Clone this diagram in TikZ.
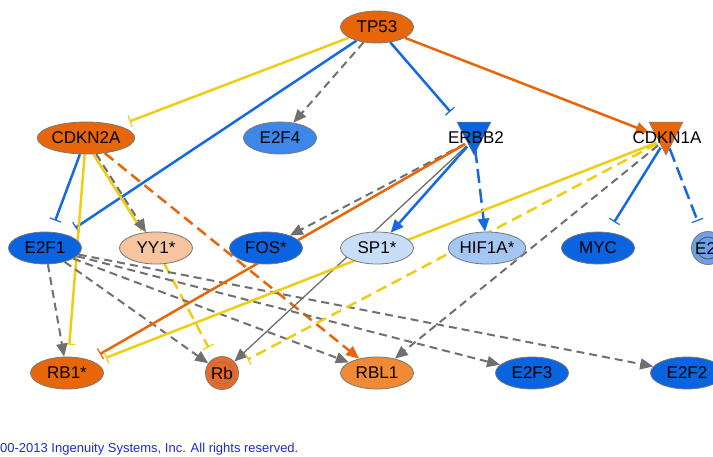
\documentclass[tikz,border=0pt]{standalone}
\usepackage{fontspec}
\setmainfont{Liberation Sans}
\usetikzlibrary{arrows.meta,shapes.geometric,backgrounds}
\definecolor{orangeN}{RGB}{232,102,10}
\definecolor{orangeL}{RGB}{240,138,55}
\definecolor{peach}{RGB}{246,196,158}
\definecolor{blueN}{RGB}{10,100,224}
\definecolor{blueM}{RGB}{60,135,232}
\definecolor{sponeC}{RGB}{200,221,246}
\definecolor{hifC}{RGB}{164,198,242}
\definecolor{etwofC}{RGB}{110,160,230}
\definecolor{bordergray}{RGB}{120,120,120}
\definecolor{yelE}{RGB}{238,205,20}
\definecolor{bluE}{RGB}{20,105,228}
\definecolor{orgE}{RGB}{232,102,10}
\definecolor{grE}{RGB}{112,112,112}
\definecolor{footblue}{RGB}{30,40,220}
\definecolor{rbC}{RGB}{235,105,40}
\newcommand\genefont{\fontsize{17}{20}\selectfont}
\tikzset{
  gene/.style={ellipse, draw=bordergray, line width=0.8pt, minimum width=73pt,
    minimum height=32pt, inner sep=0pt, font=\genefont},
  grp/.style={circle, draw=bordergray, line width=0.8pt, minimum size=33pt,
    inner sep=0pt, font=\genefont},
  trinode/.style={circle, minimum size=20pt, inner sep=0pt},
  trilabel/.style={font=\genefont, inner sep=0pt},
  act/.style={-{Triangle[width=11pt,length=13pt]}},
  inh/.style={-{Bar[width=12pt,line width=1.2pt]}, shorten >=12pt},
  yl/.style={draw=yelE, line width=2.5pt},
  bl/.style={draw=bluE, line width=2.5pt},
  og/.style={draw=orgE, line width=2.5pt},
  gd/.style={draw=grE, line width=2pt, dash pattern=on 8pt off 5pt},
  gthin/.style={draw=grE, line width=1.3pt},
  ld/.style={dash pattern=on 14pt off 6pt},
  md/.style={dash pattern=on 11pt off 6pt},
}
\begin{document}
\begin{tikzpicture}[x=1pt,y=-1pt]
\useasboundingbox (0,0) rectangle (713,456);
% nodes
\node[gene, fill=orangeN] (TP53) at (377,27) {TP53};
\node[gene, fill=orangeN] (CDKN2A) at (86,138) {CDKN2A};
\node[gene, fill=blueM] (E2F4) at (280,138) {E2F4};
\fill[blueN, draw=bordergray, line width=0.5pt] (457,122) -- (491,122) -- (474,155) -- cycle;
\node[trinode] (ERBB2) at (474,139) {};
\node[trilabel] (ERBB2t) at (476,138) {ERBB2};
\fill[orangeN, draw=bordergray, line width=0.5pt] (649,122) -- (683,122) -- (666,155) -- cycle;
\node[trinode] (CDKN1A) at (666,139) {};
\node[trilabel] (CDKN1At) at (667,138) {CDKN1A};
\node[gene, fill=blueN] (E2F1) at (45,248) {E2F1};
\node[gene, fill=peach] (YY1) at (156,248) {YY1*};
\node[gene, fill=blueN] (FOS) at (266,248) {FOS*};
\node[gene, fill=sponeC] (SP1) at (377,248) {SP1*};
\node[gene, fill=hifC] (HIF1A) at (487,248) {HIF1A*};
\node[gene, fill=blueN] (MYC) at (598,248) {MYC};
\node[grp, fill=etwofC, path picture={\draw[draw=black!70, line width=0.7pt] (path picture bounding box.center) circle (11pt);}] (E2f) at (708,248) {E2f};
\node[gene, fill=orangeN] (RB1) at (67,373) {RB1*};
\node[grp, fill=rbC, path picture={\draw[draw=bordergray, line width=0.7pt] (path picture bounding box.center) circle (11pt);}] (Rb) at (222,373) {Rb};
\node[gene, fill=orangeL] (RBL1) at (377,373) {RBL1};
\node[gene, fill=blueN] (E2F3) at (532,373) {E2F3};
\node[gene, fill=blueN] (E2F2) at (687,373) {E2F2};
\node[anchor=base west, inner sep=0pt, text=footblue, font=\fontsize{13}{15}\selectfont] (copy) at (0,452) {00-2013 Ingenuity Systems, Inc. All rights reserved.};
% edges
\begin{pgfonlayer}{background}
\draw[yl, inh] (TP53) -- (CDKN2A);
\draw[bl, inh] (TP53) -- (E2F1);
\draw[gd, act] (TP53) -- (E2F4);
\draw[bl, inh, shorten >=26pt] (TP53) -- (ERBB2);
\draw[og, act, shorten >=8pt] (TP53) -- (CDKN1A);
\draw[bl, inh] (CDKN2A) -- (E2F1);
\draw[yl, inh] (CDKN2A) -- (RB1);
\draw[yl, shorten >=2pt, transform canvas={xshift=-3pt}] (CDKN2A) -- (YY1);
\draw[gd, act] (CDKN2A) -- (YY1);
\draw[og, act, md] (CDKN2A) -- (RBL1);
\draw[yl, inh, md] (YY1) -- (Rb);
\draw[gd, act] (E2F1) -- (RB1);
\draw[gd, act] (E2F1) -- (Rb);
\draw[gd, act] (E2F1) -- (RBL1);
\draw[gd, act] (E2F1) -- (E2F3);
\draw[gd, act] (E2F1) -- (E2F2);
\draw[gd, act] (ERBB2) -- (FOS);
\draw[og, inh] (ERBB2) -- (RB1);
\draw[gthin, act] (ERBB2) -- (Rb);
\draw[bl, act] (ERBB2) -- (SP1);
\draw[bl, act, ld] (ERBB2) -- (HIF1A);
\draw[yl, inh] (CDKN1A) -- (RB1);
\draw[yl, inh, md] (CDKN1A) -- (Rb);
\draw[gd, act] (CDKN1A) -- (RBL1);
\draw[bl, inh] (CDKN1A) -- (MYC);
\draw[bl, inh, ld] (CDKN1A) -- (E2f);
\end{pgfonlayer}
\end{tikzpicture}
\end{document}
